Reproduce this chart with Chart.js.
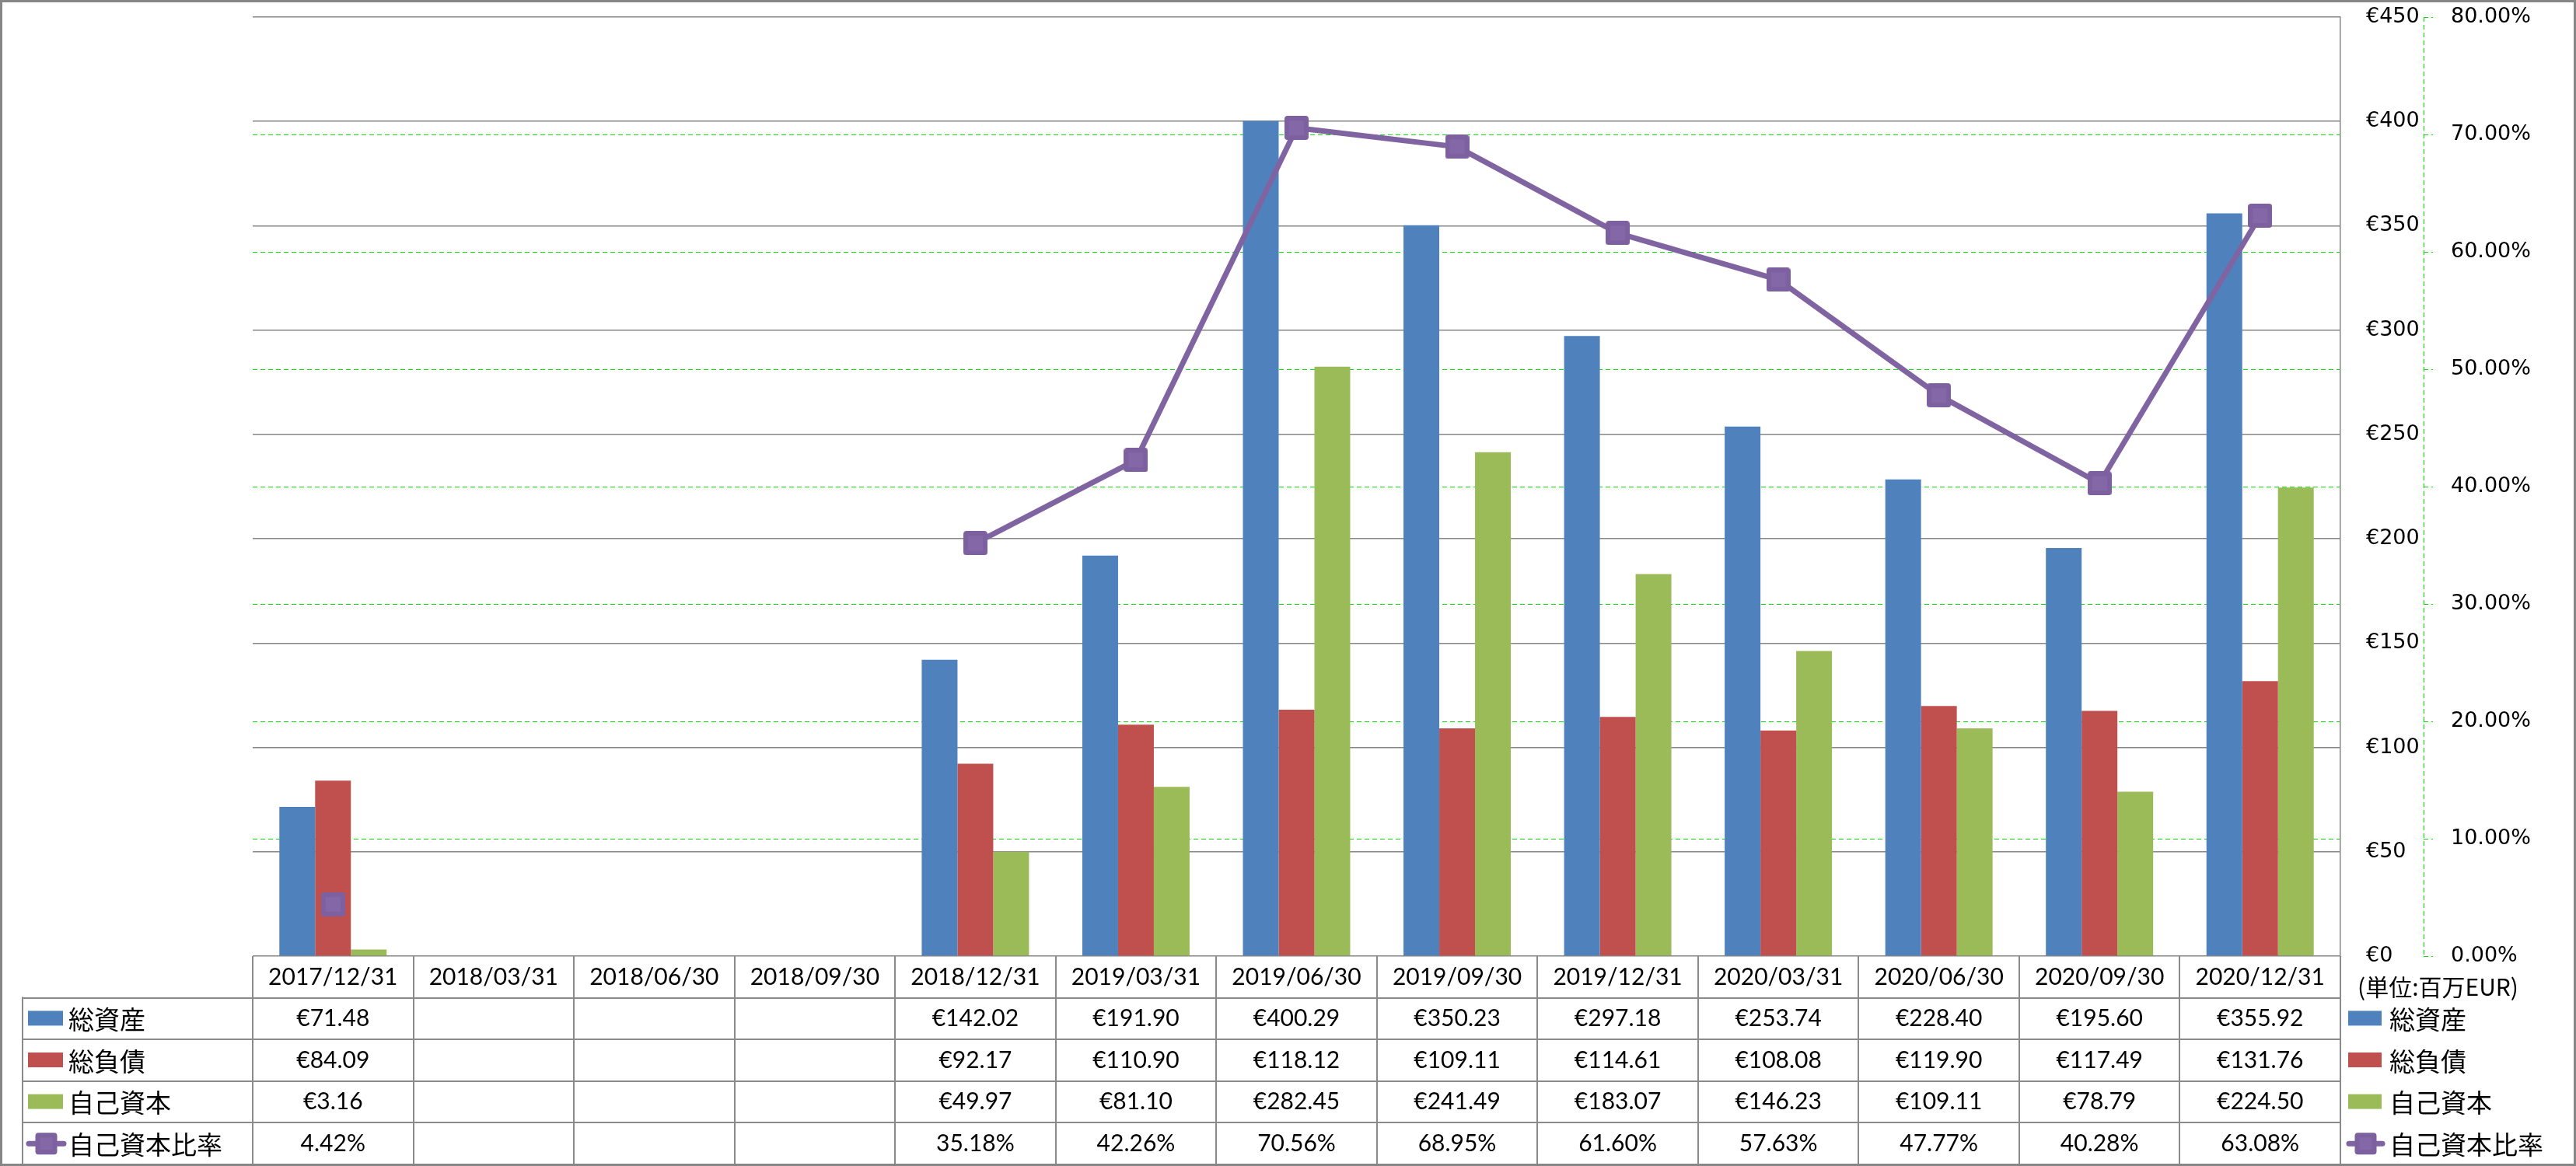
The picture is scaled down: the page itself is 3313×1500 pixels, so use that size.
<!DOCTYPE html>
<html lang="ja">
<head>
  <meta charset="UTF-8">
  <title>総資産・総負債・自己資本・自己資本比率</title>
  <script src="https://cdn.jsdelivr.net/npm/chart.js"></script>
  <style>
    html, body { margin: 0; padding: 0; background: #fff; }
    canvas { display: block; }
  </style>
</head>
<body>
  <canvas id="chart" width="3313" height="1500"></canvas>

  <script>
    const categories = ['2017/12/31', '2018/03/31', '2018/06/30', '2018/09/30', '2018/12/31', '2019/03/31',
      '2019/06/30', '2019/09/30', '2019/12/31', '2020/03/31', '2020/06/30', '2020/09/30', '2020/12/31'];
    const totalAssets = [71.48, null, null, null, 142.02, 191.90, 400.29, 350.23, 297.18, 253.74, 228.40, 195.60, 355.92];
    const totalLiabilities = [84.09, null, null, null, 92.17, 110.90, 118.12, 109.11, 114.61, 108.08, 119.90, 117.49, 131.76];
    const equity = [3.16, null, null, null, 49.97, 81.10, 282.45, 241.49, 183.07, 146.23, 109.11, 78.79, 224.50];
    const equityRatio = [4.42, null, null, null, 35.18, 42.26, 70.56, 68.95, 61.60, 57.63, 47.77, 40.28, 63.08];
    const seriesNames = ['総資産', '総負債', '自己資本', '自己資本比率'];
    const unitLabel = '(単位:百万EUR)';

    const colors = ['#4F81BD', '#C0504D', '#9BBB59', '#8064A2'];
    const lineGray = '#868686';
    const dashGreen = '#00E600';
    const numFont = '30px Lato, "Noto Sans CJK JP", sans-serif';
    const cjkFont = '33px "Noto Sans CJK JP", sans-serif';

    function roundRectPath(g, x, y, w, h, r) {
      g.beginPath();
      g.moveTo(x + r, y);
      g.arcTo(x + w, y, x + w, y + h, r);
      g.arcTo(x + w, y + h, x, y + h, r);
      g.arcTo(x, y + h, x, y, r);
      g.arcTo(x, y, x + w, y, r);
      g.closePath();
    }

    function paintMarker(g, x, y, s) {
      roundRectPath(g, x, y, s, s, 4);
      g.fillStyle = '#7D60A0';
      g.fill();
      g.fillStyle = '#8467A6';
      g.fillRect(x + 6, y + 6, s - 12, s - 12);
    }

    function makeMarker(size) {
      const c = document.createElement('canvas');
      c.width = size; c.height = size;
      paintMarker(c.getContext('2d'), 0, 0, size);
      return c;
    }
    const marker = makeMarker(31);

    function fmtEuro(v) { return '€' + v.toFixed(2); }
    function fmtPct(v) { return v.toFixed(2) + '%'; }

    function drawKey(ctx, i, x0, x1, cy) {
      if (i < 3) {
        ctx.fillStyle = colors[i];
        ctx.fillRect(x0, cy - 10, x1 - x0, 19);
      } else {
        ctx.strokeStyle = colors[3];
        ctx.lineWidth = 7;
        ctx.lineCap = 'round';
        ctx.beginPath();
        ctx.moveTo(x0 + 1, cy);
        ctx.lineTo(x1 + 1, cy);
        ctx.stroke();
        const s = 28;
        paintMarker(ctx, (x0 + x1) / 2 - s / 2 + 1, cy - s / 2, s);
      }
    }

    // data table, legends, unit label and frame
    const tablePlugin = {
      id: 'dataTable',
      afterDraw(chart) {
        const ctx = chart.ctx;
        const x = chart.scales.x;
        const y1 = chart.scales.y1;
        const area = chart.chartArea;
        const top = area.bottom;
        const bottom = 1498;
        const rowH = (bottom - top) / 5;
        const colW = (x.right - x.left) / categories.length;
        const rows = [totalAssets, totalLiabilities, equity, equityRatio];

        ctx.save();

        // dashed secondary axis line
        ctx.strokeStyle = dashGreen;
        ctx.lineWidth = 1;
        ctx.setLineDash([6, 4]);
        ctx.beginPath();
        ctx.moveTo(y1.left + 0.5, area.top);
        ctx.lineTo(y1.left + 0.5, area.bottom);
        ctx.stroke();
        ctx.setLineDash([]);

        // table grid
        ctx.strokeStyle = '#8a8a8a';
        ctx.lineWidth = 2;
        ctx.beginPath();
        for (let k = 1; k < 5; k++) {
          const yy = Math.round(top + rowH * k);
          ctx.moveTo(28, yy);
          ctx.lineTo(x.right + 1, yy);
        }
        for (let i = 0; i <= categories.length; i++) {
          const xx = Math.round(x.left + colW * i);
          ctx.moveTo(xx, top);
          ctx.lineTo(xx, bottom);
        }
        ctx.moveTo(29, top + rowH - 1);
        ctx.lineTo(29, bottom);
        ctx.stroke();

        // values
        ctx.fillStyle = '#000';
        ctx.font = numFont;
        ctx.textAlign = 'center';
        ctx.textBaseline = 'middle';
        rows.forEach((arr, r) => {
          const cy = top + rowH * (r + 1) + rowH / 2;
          arr.forEach((v, i) => {
            if (v === null) return;
            ctx.fillText(r === 3 ? fmtPct(v) : fmtEuro(v), x.getPixelForValue(i), cy);
          });
        });

        // legend keys inside table and on the right
        ctx.textAlign = 'left';
        ctx.font = cjkFont;
        seriesNames.forEach((name, r) => {
          const cy = top + rowH * (r + 1) + rowH / 2;
          drawKey(ctx, r, 36, 81, cy);
          ctx.fillStyle = '#000';
          ctx.fillText(name, 88, cy + 1);
          drawKey(ctx, r, 3020, 3063, cy);
          ctx.fillStyle = '#000';
          ctx.fillText(name, 3073, cy + 1);
        });

        // unit label
        ctx.font = '30px "Noto Sans CJK JP", sans-serif';
        ctx.fillText(unitLabel, 3032, 1270);

        // outer frame
        ctx.strokeStyle = lineGray;
        ctx.lineWidth = 3;
        ctx.strokeRect(1.5, 1.5, chart.width - 3, chart.height - 3);

        ctx.restore();
      }
    };

    const barCommon = { yAxisID: 'y', order: 1, categoryPercentage: 0.668, barPercentage: 1.0, borderWidth: 0 };

    new Chart(document.getElementById('chart').getContext('2d'), {
      type: 'bar',
      data: {
        labels: categories,
        datasets: [
          {
            type: 'line',
            label: seriesNames[3],
            data: equityRatio,
            yAxisID: 'y1',
            order: 0,
            borderColor: colors[3],
            backgroundColor: colors[3],
            borderWidth: 7,
            borderCapStyle: 'round',
            borderJoinStyle: 'round',
            pointStyle: marker,
            pointRadius: 15,
            spanGaps: false,
            tension: 0
          },
          Object.assign({ label: seriesNames[0], data: totalAssets, backgroundColor: colors[0] }, barCommon),
          Object.assign({ label: seriesNames[1], data: totalLiabilities, backgroundColor: colors[1] }, barCommon),
          Object.assign({ label: seriesNames[2], data: equity, backgroundColor: colors[2] }, barCommon)
        ]
      },
      options: {
        responsive: false,
        animation: false,
        layout: { padding: { left: 325, right: 0, top: 21, bottom: 2 } },
        plugins: {
          legend: { display: false },
          tooltip: { enabled: false }
        },
        scales: {
          x: {
            grid: { display: false, drawTicks: false },
            border: { display: false },
            ticks: {
              color: '#000',
              font: { family: 'Lato, sans-serif', size: 30 },
              padding: 9,
              maxRotation: 0,
              minRotation: 0,
              autoSkip: false
            },
            afterFit(s) { s.height = 268; }
          },
          y: {
            position: 'right',
            weight: 0,
            min: 0,
            max: 450,
            ticks: {
              stepSize: 50,
              padding: 33,
              color: '#000',
              font: { family: '"DejaVu Sans", sans-serif', size: 27 },
              callback: v => '€' + v
            },
            grid: { color: lineGray, lineWidth: 1.5, drawTicks: false },
            border: { display: true, color: lineGray, width: 1.5 },
            afterFit(s) { s.width = 107; s.paddingTop = 0; s.paddingBottom = 0; }
          },
          y1: {
            position: 'right',
            weight: 1,
            min: 0,
            max: 80,
            ticks: {
              stepSize: 10,
              padding: 23,
              color: '#000',
              font: { family: '"DejaVu Sans", sans-serif', size: 27 },
              callback: v => v.toFixed(2) + '%'
            },
            grid: {
              z: -2,
              color: c => (c.tick && (c.tick.value === 0 || c.tick.value === 80)) ? 'rgba(0,0,0,0)' : dashGreen,
              lineWidth: 1,
              tickLength: 12,
              tickColor: dashGreen,
              tickBorderDash: [6, 4]
            },
            border: { display: false, dash: [6, 4] },
            afterFit(s) { s.width = 196; s.paddingTop = 0; s.paddingBottom = 0; }
          }
        }
      },
      plugins: [tablePlugin]
    });
  </script>
</body>
</html>
